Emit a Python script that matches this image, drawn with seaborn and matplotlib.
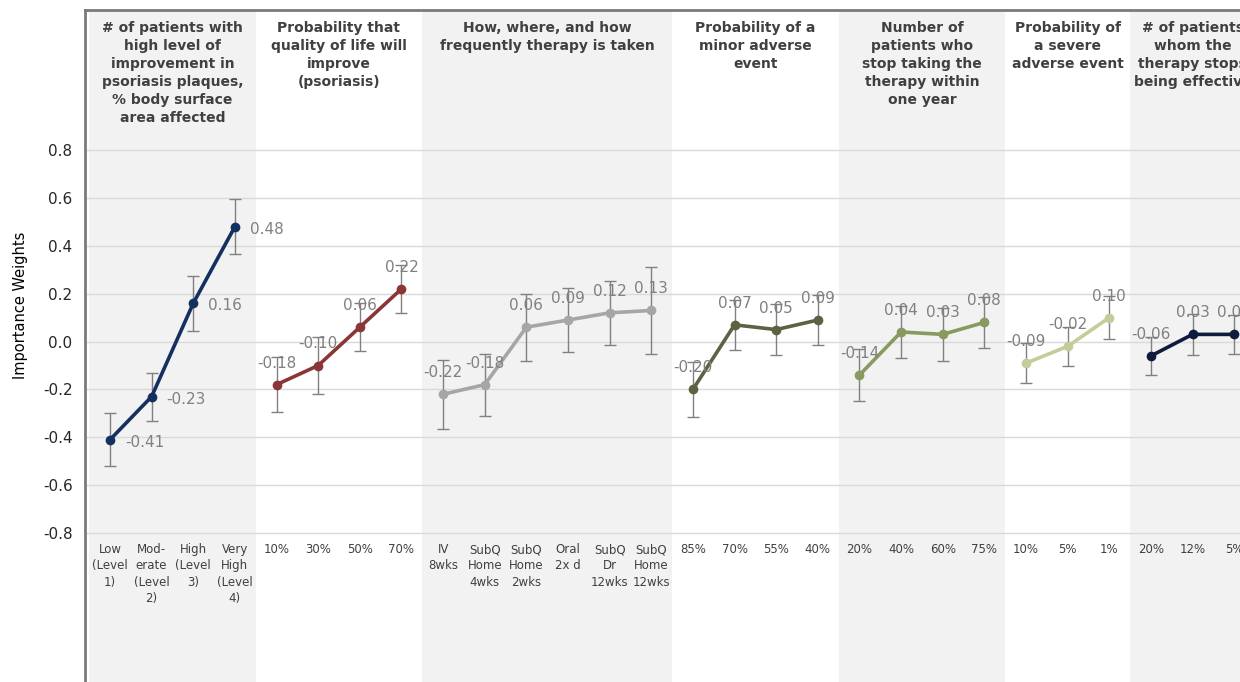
import numpy as np
import pandas as pd
import matplotlib
matplotlib.use('Agg')
import matplotlib.pyplot as plt
import seaborn as sns

sns.set_style('white')
plt.rcParams['font.family'] = ['DejaVu Sans']
plt.rcParams['axes.unicode_minus'] = False

# attribute headers (one per group)
headers = ['# of patients with\nhigh level of\nimprovement in\npsoriasis plaques,\n% body surface\narea affected',
           'Probability that\nquality of life will\nimprove\n(psoriasis)',
           'How, where, and how\nfrequently therapy is taken',
           'Probability of a\nminor adverse\nevent',
           'Number of\npatients who\nstop taking the\ntherapy within\none year',
           'Probability of\na severe\nadverse event',
           '# of patients\nwhom the\ntherapy stops\nbeing effective']

# levels, weights and error (half width) per attribute
lv_bsa = ['Low\n(Level\n1)', 'Mod-\nerate\n(Level\n2)', 'High\n(Level\n3)', 'Very\nHigh\n(Level\n4)']
w_bsa = [-0.41, -0.23, 0.16, 0.48]
e_bsa = [0.11, 0.10, 0.115, 0.115]

lv_qol = ['10%', '30%', '50%', '70%']
w_qol = [-0.18, -0.10, 0.06, 0.22]
e_qol = [0.115, 0.12, 0.10, 0.10]

lv_adm = ['IV\n8wks', 'SubQ\nHome\n4wks', 'SubQ\nHome\n2wks', 'Oral\n2x d', 'SubQ\nDr\n12wks', 'SubQ\nHome\n12wks']
w_adm = [-0.22, -0.18, 0.06, 0.09, 0.12, 0.13]
e_adm = [0.145, 0.13, 0.14, 0.135, 0.135, 0.18]

lv_minor = ['85%', '70%', '55%', '40%']
w_minor = [-0.20, 0.07, 0.05, 0.09]
e_minor = [0.115, 0.105, 0.105, 0.105]

lv_stop = ['20%', '40%', '60%', '75%']
w_stop = [-0.14, 0.04, 0.03, 0.08]
e_stop = [0.11, 0.11, 0.11, 0.105]

lv_severe = ['10%', '5%', '1%']
w_severe = [-0.09, -0.02, 0.10]
e_severe = [0.085, 0.08, 0.09]

lv_eff = ['20%', '12%', '5%']
w_eff = [-0.06, 0.03, 0.03]
e_eff = [0.08, 0.085, 0.08]

colors = ['#14305f', '#8b3636', '#a6a6a6', '#5c6343', '#889a60', '#c5cc9c', '#0e1b3d']

groups = [(lv_bsa, w_bsa, e_bsa), (lv_qol, w_qol, e_qol), (lv_adm, w_adm, e_adm),
          (lv_minor, w_minor, e_minor), (lv_stop, w_stop, e_stop),
          (lv_severe, w_severe, e_severe), (lv_eff, w_eff, e_eff)]

frames = []
start = 0
for g, (lv, w, e) in enumerate(groups):
    frames.append(pd.DataFrame({'group': g, 'level': lv, 'weight': w, 'err': e,
                                'pos': np.arange(start, start + len(lv))}))
    start += len(lv)
df = pd.concat(frames, ignore_index=True)

fig = plt.figure(figsize=(12.4, 6.82), dpi=100)
ax = fig.add_axes([85 / 1240, 0, 1 - 85 / 1240, 672 / 682])

# shaded header/background bands
for g, d in df.groupby('group'):
    if g % 2 == 0:
        ax.axvspan(d.pos.min() - 0.5, d.pos.max() + 0.5, color='#f2f2f2', zorder=0, lw=0)
    ax.text((d.pos.min() + d.pos.max()) / 2, 1.34, headers[g], ha='center', va='top',
            fontsize=10, fontweight='bold', color='#404040', linespacing=1.36)

ax.errorbar(df.pos, df.weight, yerr=df.err, fmt='none', ecolor='#808080',
            elinewidth=1, capsize=4, capthick=1, zorder=3)
sns.lineplot(data=df, x='pos', y='weight', hue='group', palette=colors, marker='o',
             markersize=7, markeredgewidth=0, linewidth=2.6, legend=False, ax=ax, zorder=4)

for _, r in df.iterrows():
    if r.group == 0:
        ax.text(r.pos + 0.36, r.weight - 0.01, f'{r.weight:.2f}', ha='left', va='center',
                fontsize=11, color='#808080', zorder=5)
    else:
        ax.text(r.pos, r.weight + 0.09, f'{r.weight:.2f}', ha='center', va='center',
                fontsize=11, color='#808080', zorder=5)
    ax.text(r.pos, -0.842, r.level, ha='center', va='top', fontsize=8.5,
            color='#404040', linespacing=1.32)

ax.set_xlim(-0.6, 27.14)
ax.set_ylim(-1.422, 1.385)
yt = np.round(np.arange(-0.8, 0.81, 0.2), 1)
ax.set_yticks(yt)
ax.set_yticklabels([f'{v + 0.0:.1f}' for v in yt], fontsize=11, color='#262626')
ax.set_xticks([])
ax.tick_params(axis='y', length=0, pad=9)
ax.grid(axis='y', color='#d9d9d9', linewidth=1)
ax.set_axisbelow(True)
ax.set_xlabel('')
ax.set_ylabel('Importance Weights', fontsize=10.5, color='#000000')
ax.yaxis.set_label_coords(-0.049, 0.56)

for s in ['right', 'bottom']:
    ax.spines[s].set_visible(False)
for s in ['top', 'left']:
    ax.spines[s].set_color('#7a7a7a')
    ax.spines[s].set_linewidth(2)

fig.savefig('out.png', dpi=100)
